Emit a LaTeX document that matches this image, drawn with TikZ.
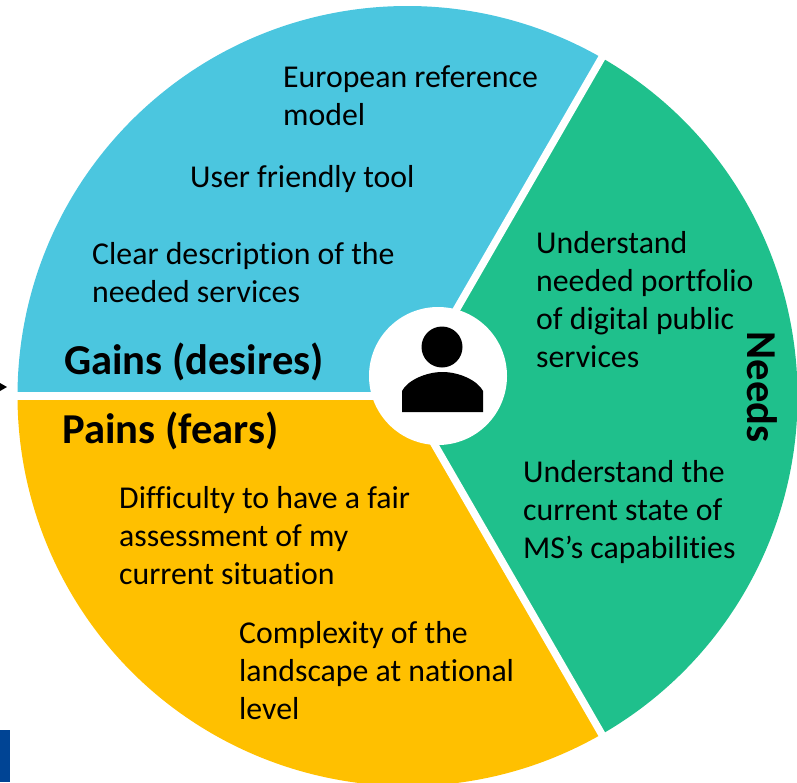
\documentclass[tikz,border=0pt]{standalone}
\usepackage{fontspec}
\usetikzlibrary{calc}
\setmainfont{Carlito}[Ligatures=NoCommon]
\definecolor{gainblue}{HTML}{4BC6DF}
\definecolor{needgreen}{HTML}{1FC08C}
\definecolor{painyellow}{HTML}{FFC000}
\definecolor{barblue}{HTML}{004494}
\tikzset{
  spoke/.style={draw=white,line width=7.5pt},
  bodytext/.style={anchor=north west,align=left,inner sep=0pt,font=\fontsize{31.8}{38}\selectfont},
  headtext/.style={anchor=base west,inner sep=0pt,font=\fontsize{42.6}{46}\selectfont\bfseries},
}
\begin{document}
\begin{tikzpicture}[x=1pt,y=-1pt]
\useasboundingbox (0,0) rectangle (797,782);
\begin{scope}
\clip (0,0) rectangle (797,782);
\coordinate (c) at (407.5,396);
\coordinate (o) at (406.5,396);
\def\R{390}
\fill[gainblue] (c) -- +(180:\R pt) arc[start angle=180,end angle=60,radius=\R pt] -- cycle;
\fill[needgreen] (c) -- +(60:\R pt) arc[start angle=60,end angle=-60,radius=\R pt] -- cycle;
\fill[painyellow] (c) -- +(-60:\R pt) arc[start angle=-60,end angle=-180,radius=\R pt] -- cycle;
\coordinate (s1) at ($(o)+(60:398pt)$);
\coordinate (s2) at ($(o)+(-60:398pt)$);
\coordinate (s3) at ($(o)+(180:398pt)$);
\draw[spoke] (o) -- (s1);
\draw[spoke] (o) -- (s2);
\draw[spoke] (o) -- (s3);
\fill[white] (438,376) circle[radius=69pt];
% person
\fill[black] (442,347) circle[radius=20.5pt];
\fill[black] (402,412) -- (402,391) .. controls (407,381) and (425,372) .. (442.5,372) .. controls (460,372) and (478,381) .. (483,391) -- (483,412) -- cycle;
\end{scope}
\fill[barblue] (0,730) rectangle (10,782);
\fill[black] (0,383) -- (7,387) -- (0,391) -- cycle;
\node[bodytext] (g1) at (283,65) {European reference\\model};
\node[bodytext] (g2) at (190,165) {User friendly tool};
\node[bodytext] (g3) at (92,242) {Clear description of the\\needed services};
\node[headtext] (gh) at (64,374) {Gains (desires)};
\node[headtext] (ph) at (62,443) {Pains (fears)};
\node[bodytext] (p1) at (119,486) {Difficulty to have a fair\\assessment of my\\current situation};
\node[bodytext] (p2) at (239,621) {Complexity of the\\landscape at national\\level};
\node[bodytext] (n1) at (536,231) {Understand\\needed portfolio\\of digital public\\services};
\node[bodytext] (n2) at (523,460) {Understand the\\current state of\\MS’s capabilities};
\node[anchor=center,inner sep=0pt,rotate=-90,font=\fontsize{42.6}{46}\selectfont\bfseries] (nh) at (762.5,387) {Needs};
\end{tikzpicture}
\end{document}
